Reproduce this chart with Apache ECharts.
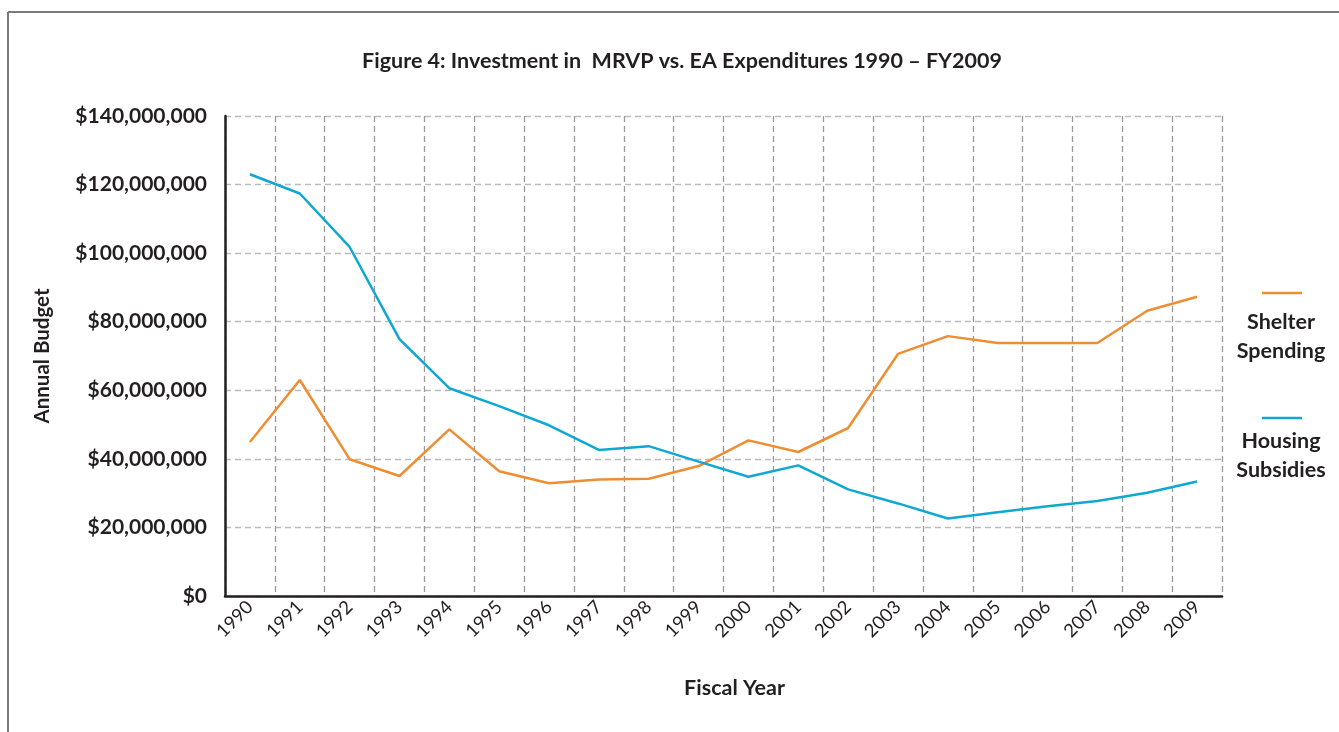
<!DOCTYPE html>
<html>
<head>
<meta charset="utf-8">
<script src="https://cdn.jsdelivr.net/npm/echarts@6/dist/echarts.min.js"></script>
<style>
html,body{margin:0;padding:0;background:#fff;}
#chart{width:1339px;height:732px;}
</style>
</head>
<body>
<div id="chart"></div>
<script>
var years = ['1990','1991','1992','1993','1994','1995','1996','1997','1998','1999','2000','2001','2002','2003','2004','2005','2006','2007','2008','2009'];
var shelterSpending = [44.9,63.0,39.9,35.0,48.6,36.4,32.9,34.0,34.2,37.9,45.4,42.0,49.0,70.6,75.8,73.8,73.8,73.8,83.2,87.3].map(function(v){return v*1e6;});
var housingSubsidies = [123.0,117.4,101.8,74.9,60.6,55.4,49.8,42.6,43.7,39.2,34.8,38.1,31.1,27.0,22.6,24.4,26.2,27.7,30.1,33.4].map(function(v){return v*1e6;});
var seriesNames = ['Shelter\nSpending','Housing\nSubsidies'];
var colors = ['#EE8E33','#0FA8D2'];

var FONT = 'Lato';
var chart = echarts.init(document.getElementById('chart'));
function money(v){
  return '$' + String(Math.round(v)).replace(/\B(?=(\d{3})+(?!\d))/g, ',');
}
chart.setOption({
  animation:false,
  backgroundColor:'#fff',
  title:{
    text:'Figure 4: Investment in  MRVP vs. EA Expenditures 1990 \u2013 FY2009',
    left:677, top:45, textAlign:'center',
    textStyle:{fontFamily:FONT,fontWeight:'bold',fontSize:21.5,color:'#231f20'}
  },
  grid:{left:225,right:117,top:116,bottom:136,containLabel:false},
  xAxis:{
    type:'category', data:years, boundaryGap:true,
    name:'Fiscal Year', nameLocation:'middle', nameGap:81,
    nameTextStyle:{fontFamily:FONT,fontWeight:'bold',fontSize:21.5,color:'#231f20',padding:[0,0,0,22]},
    axisLine:{lineStyle:{color:'#231f20',width:2.5}},
    axisTick:{show:false},
    axisLabel:{rotate:45,margin:8,fontFamily:FONT,fontSize:18.5,color:'#231f20'},
    splitLine:{show:true,lineStyle:{color:'#999',type:[6,4],width:1.3}}
  },
  yAxis:{
    type:'value', min:0, max:140000000, interval:20000000,
    name:'Annual Budget', nameLocation:'middle', nameGap:172, nameRotate:90,
    nameTextStyle:{fontFamily:FONT,fontWeight:'bold',fontSize:20.5,color:'#231f20'},
    axisLine:{show:true,lineStyle:{color:'#231f20',width:2.5}},
    axisTick:{show:false},
    axisLabel:{margin:18,formatter:money,fontFamily:FONT,fontWeight:'bold',fontSize:21,color:'#231f20'},
    splitLine:{show:true,lineStyle:{color:'#bbb',type:[6,4],width:1.3}}
  },
  series:[
    {name:seriesNames[0],type:'line',data:shelterSpending,symbol:'none',lineStyle:{color:colors[0],width:2.5},z:3},
    {name:seriesNames[1],type:'line',data:housingSubsidies,symbol:'none',lineStyle:{color:colors[1],width:2.5},z:3}
  ],
  graphic:[
    {type:'line',shape:{x1:8,y1:12,x2:1339,y2:12},style:{stroke:'#7a7a7a',lineWidth:2}},
    {type:'line',shape:{x1:8,y1:12,x2:8,y2:732},style:{stroke:'#7a7a7a',lineWidth:2}},
    {type:'line',shape:{x1:1262,y1:293,x2:1302,y2:293},style:{stroke:colors[0],lineWidth:2.5}},
    {type:'text',x:1281,y:308,style:{text:seriesNames[0],textAlign:'center',textVerticalAlign:'top',fontFamily:FONT,fontWeight:'bold',fontSize:21.5,lineHeight:29,fill:'#231f20'}},
    {type:'line',shape:{x1:1262,y1:418,x2:1302,y2:418},style:{stroke:colors[1],lineWidth:2.5}},
    {type:'text',x:1281,y:427,style:{text:seriesNames[1],textAlign:'center',textVerticalAlign:'top',fontFamily:FONT,fontWeight:'bold',fontSize:21.5,lineHeight:29,fill:'#231f20'}}
  ]
});
</script>
</body>
</html>
